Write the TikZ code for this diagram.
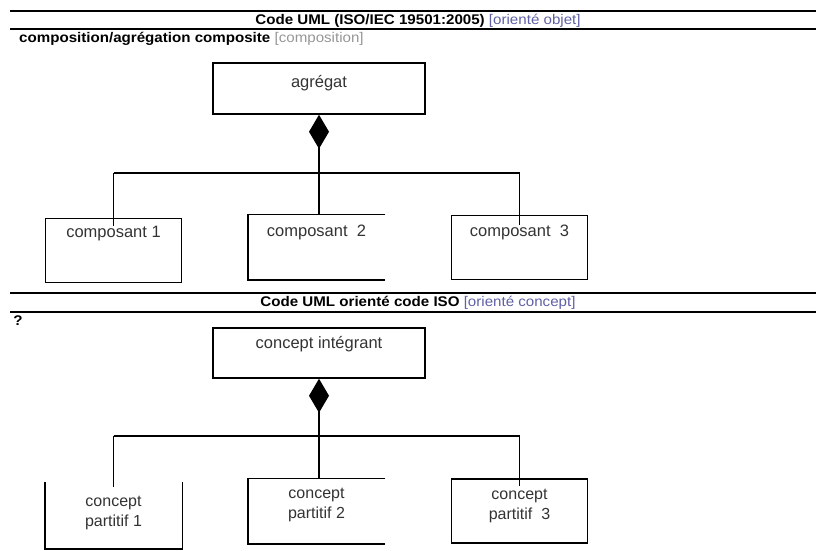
\documentclass[tikz,border=0pt]{standalone}
\usepackage{fontspec}
\setmainfont{Liberation Sans}
\newfontfamily\hdfont[FakeStretch=1.08]{Liberation Sans}
\usetikzlibrary{positioning,arrows.meta}
\definecolor{tagblue}{RGB}{95,95,165}
\definecolor{taggrey}{RGB}{150,150,150}
\begin{document}
\begin{tikzpicture}
	[
	x=1pt, y=1pt,
	rule/.style={draw = black, line width = 2pt},
	hd/.style={font = \hdfont\fontsize{14}{17}\selectfont, inner sep = 0pt},
	box/.style={draw = black, line width = 1.5pt, shape = rectangle, inner sep = 0pt, minimum width = 136pt, minimum height = 64pt},
	wide/.style={box, minimum width = 212pt, minimum height = 51pt},
	open/.style={box, draw = none},
	txt/.style={font = \fontsize{16.5}{20}\selectfont, text = black!80, inner sep = 0pt, text height = 11pt, text depth = 3pt},
	txt2/.style={font = \fontsize{16}{19.5}\selectfont, text = black!80, inner sep = 0pt, align = center},
	link/.style={draw = black, line width = 1.5pt},
	comp/.style={link, -{Diamond[length = 34pt, width = 20pt]}}
	]
	
	\useasboundingbox (0,0) rectangle (816,-551);
	
	\draw[rule] (10,-11) -- (816,-11);
	\draw[rule] (10,-29.5) -- (816,-29.5);
	\node[hd](h1) at (418,-20.5){\textbf{Code UML (ISO/IEC 19501:2005)} \textcolor{tagblue}{[orienté objet]}};
	\node[hd, anchor = west](s1) at (19,-39){\textbf{composition/agrégation composite} \textcolor{taggrey}{[composition]}};
	
	\node[wide](agr) at (319,-88.5){};
	\node[box](c1) at (113.5,-250.5){};
	\node[open](c2) at (316.5,-247){};
	\node[box](c3) at (519.5,-247.5){};
	
	\node[txt, below = 14pt of agr.north](agrt){agrégat};
	\node[txt, below = 9pt of c1.north](c1t){composant 1};
	\node[txt, below = 11pt of c2.north](c2t){composant\ \ 2};
	\node[txt, below = 11pt of c3.north](c3t){composant\ \ 3};
	
	\draw[link] (c2.north east) -- (c2.north west) -- (c2.south west) -- (c2.south east);
	
	\coordinate (busA) at (319,-173);
	\draw[comp] (agr.south |- c2.north) -- (agr.south);
	\draw[link] (busA -| c1.north) -- (busA -| c3.north);
	\draw[link] (busA -| c1.north) -- ([yshift=-8pt]c1.north);
	\draw[link] (busA -| c3.north) -- ([yshift=-10pt]c3.north);
	
	\draw[rule] (10,-293) -- (816,-293);
	\draw[rule] (10,-312) -- (816,-312);
	\node[hd](h2) at (418,-302.5){\textbf{Code UML orienté code ISO} \textcolor{tagblue}{[orienté concept]}};
	\node[hd](q) at (18,-320.5){\textbf{?}};
	
	\node[wide, minimum height = 50pt](intg) at (319,-353){};
	\node[open, minimum height = 65pt](p1) at (113.5,-515.5){};
	\node[open](p2) at (316.5,-511){};
	\node[box](p3) at (519.5,-511){};
	
	\node[txt, below = 10pt of intg.north](intgt){concept intégrant};
	\node[txt2, below = 14pt of p1.north](p1t){concept\\partitif 1};
	\node[txt2, below = 10pt of p2.north](p2t){concept\\partitif 2};
	\node[txt2, below = 11pt of p3.north](p3t){concept\\partitif\ \ 3};
	
	\draw[link] (p1.north west) -- (p1.south west) -- (p1.south east) -- (p1.north east);
	\draw[link] (p2.north east) -- (p2.north west) -- (p2.south west) -- (p2.south east);
	
	\coordinate (busB) at (319,-436);
	\draw[comp] (intg.south |- p2.north) -- (intg.south);
	\draw[link] (busB -| p1.north) -- (busB -| p3.north);
	\draw[link] (busB -| p1.north) -- ([yshift=-5pt]p1.north);
	\draw[link] (busB -| p3.north) -- ([yshift=-8pt]p3.north);
\end{tikzpicture}
\end{document}
